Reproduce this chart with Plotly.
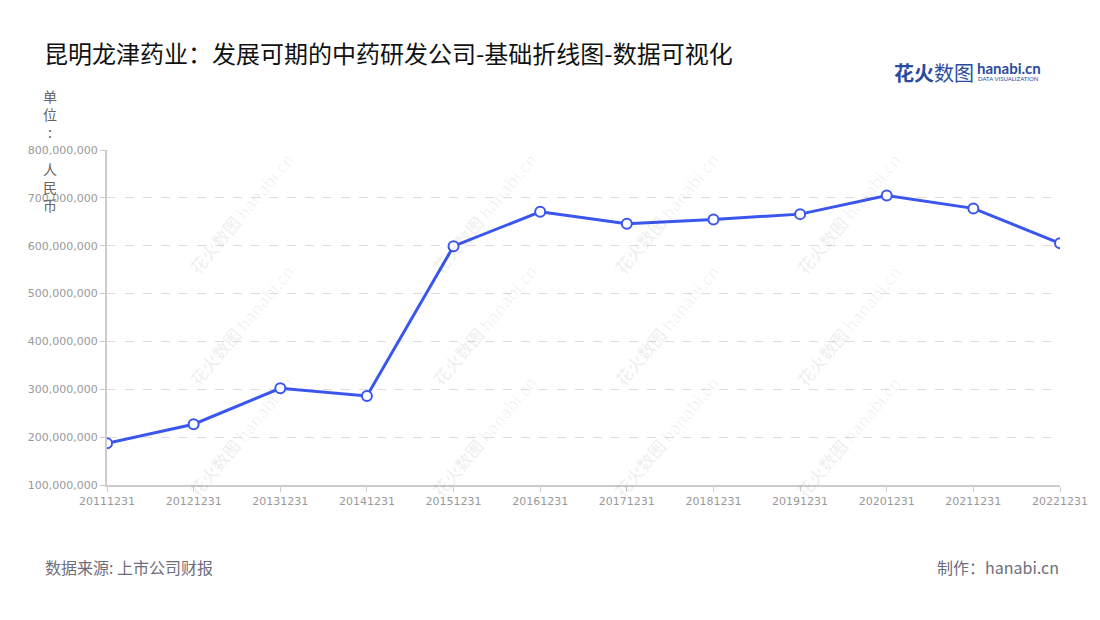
import plotly.graph_objects as go

# Data
dates = ["20111231", "20121231", "20131231", "20141231", "20151231", "20161231",
         "20171231", "20181231", "20191231", "20201231", "20211231", "20221231"]
revenue = [187e6, 227e6, 302e6, 286e6, 599e6, 671e6,
           646e6, 655e6, 666e6, 705e6, 678e6, 605e6]
y_ticks = [100e6, 200e6, 300e6, 400e6, 500e6, 600e6, 700e6, 800e6]

TITLE = "昆明龙津药业：发展可期的中药研发公司-基础折线图-数据可视化"
FONT = "Noto Sans CJK SC"
BLUE = "#3a56ee"

# page puts the figure 8px in from the top-left corner
OFF = 8
W, H = 1100 - OFF, 620 - OFF
# plot area in screen pixels
L, R, T, B = 107, 1060, 150, 485


def px(x):
    return (x - L) / (R - L)


def py(y):
    return (B - y) / (B - T)


fig = go.Figure()

fig.add_trace(go.Scatter(
    x=dates, y=revenue,
    mode="lines+markers",
    line=dict(color=BLUE, width=3),
    marker=dict(size=10, color="white", line=dict(color=BLUE, width=2)),
    hoverinfo="x+y",
    showlegend=False
))

# watermarks
for cx in [180, 423, 666, 909]:
    for cy in [145, 325, 505]:
        fig.add_annotation(
            x=px(cx), y=py(cy), xref="paper", yref="paper",
            text="<b>花火数图</b> hanabi.cn", showarrow=False,
            textangle=-50, font=dict(family=FONT, size=17, color="rgba(0,0,0,0.06)")
        )

# y axis title, stacked vertically
fig.add_annotation(
    x=px(50), y=py(84), xref="paper", yref="paper",
    xanchor="center", yanchor="top", align="center",
    text="单<br>位<br>:<br> <br>人<br>民<br>币", showarrow=False,
    font=dict(family=FONT, size=14, color="#666666")
)

# footer
fig.add_annotation(
    x=px(43), y=py(567), xref="paper", yref="paper",
    xanchor="left", yanchor="middle",
    text="数据来源: 上市公司财报", showarrow=False,
    font=dict(family=FONT, size=16, color="#6e6e7a")
)
fig.add_annotation(
    x=px(1061), y=py(567), xref="paper", yref="paper",
    xanchor="right", yanchor="middle",
    text="制作：hanabi.cn", showarrow=False,
    font=dict(family=FONT, size=16, color="#6e6e7a")
)

# logo
fig.add_annotation(
    x=px(892), y=py(72), xref="paper", yref="paper",
    xanchor="left", yanchor="middle",
    text="<b>花火</b>数图", showarrow=False,
    font=dict(family=FONT, size=20, color="#2b4c9e")
)
fig.add_annotation(
    x=px(975), y=py(68), xref="paper", yref="paper",
    xanchor="left", yanchor="middle",
    text="<b>hanabi.cn</b>", showarrow=False,
    font=dict(family="Lato", size=15, color="#2b4c9e")
)
fig.add_annotation(
    x=px(976), y=py(79), xref="paper", yref="paper",
    xanchor="left", yanchor="middle",
    text="DATA VISUALIZATION", showarrow=False,
    font=dict(family="Lato", size=6, color="#2b4c9e")
)

fig.update_layout(
    width=W, height=H,
    margin=dict(l=L - OFF, r=1100 - R, t=T - OFF, b=620 - B),
    paper_bgcolor="white", plot_bgcolor="white",
    title=dict(text=TITLE, x=(44 - OFF) / W, xanchor="left", y=1 - (55 - OFF) / H, yanchor="middle",
               font=dict(family=FONT, size=24, color="#111111")),
    font=dict(family=FONT),
    xaxis=dict(
        type="category", range=[0, len(dates) - 1],
        showgrid=False, showline=True, linecolor="#cccccc", linewidth=2,
        ticks="outside", ticklen=5, tickcolor="#cccccc",
        tickfont=dict(family="DejaVu Sans", size=11, color="#999999"),
        zeroline=False
    ),
    yaxis=dict(
        range=[100e6, 800e6], tickvals=y_ticks, tickformat=",d",
        showgrid=True, gridcolor="#dddddd", griddash="dash", gridwidth=1,
        showline=True, linecolor="#cccccc", linewidth=2,
        ticks="outside", ticklen=5, tickcolor="#cccccc",
        tickfont=dict(family="DejaVu Sans", size=11, color="#999999"),
        zeroline=False
    )
)

fig.write_html("out.html")
